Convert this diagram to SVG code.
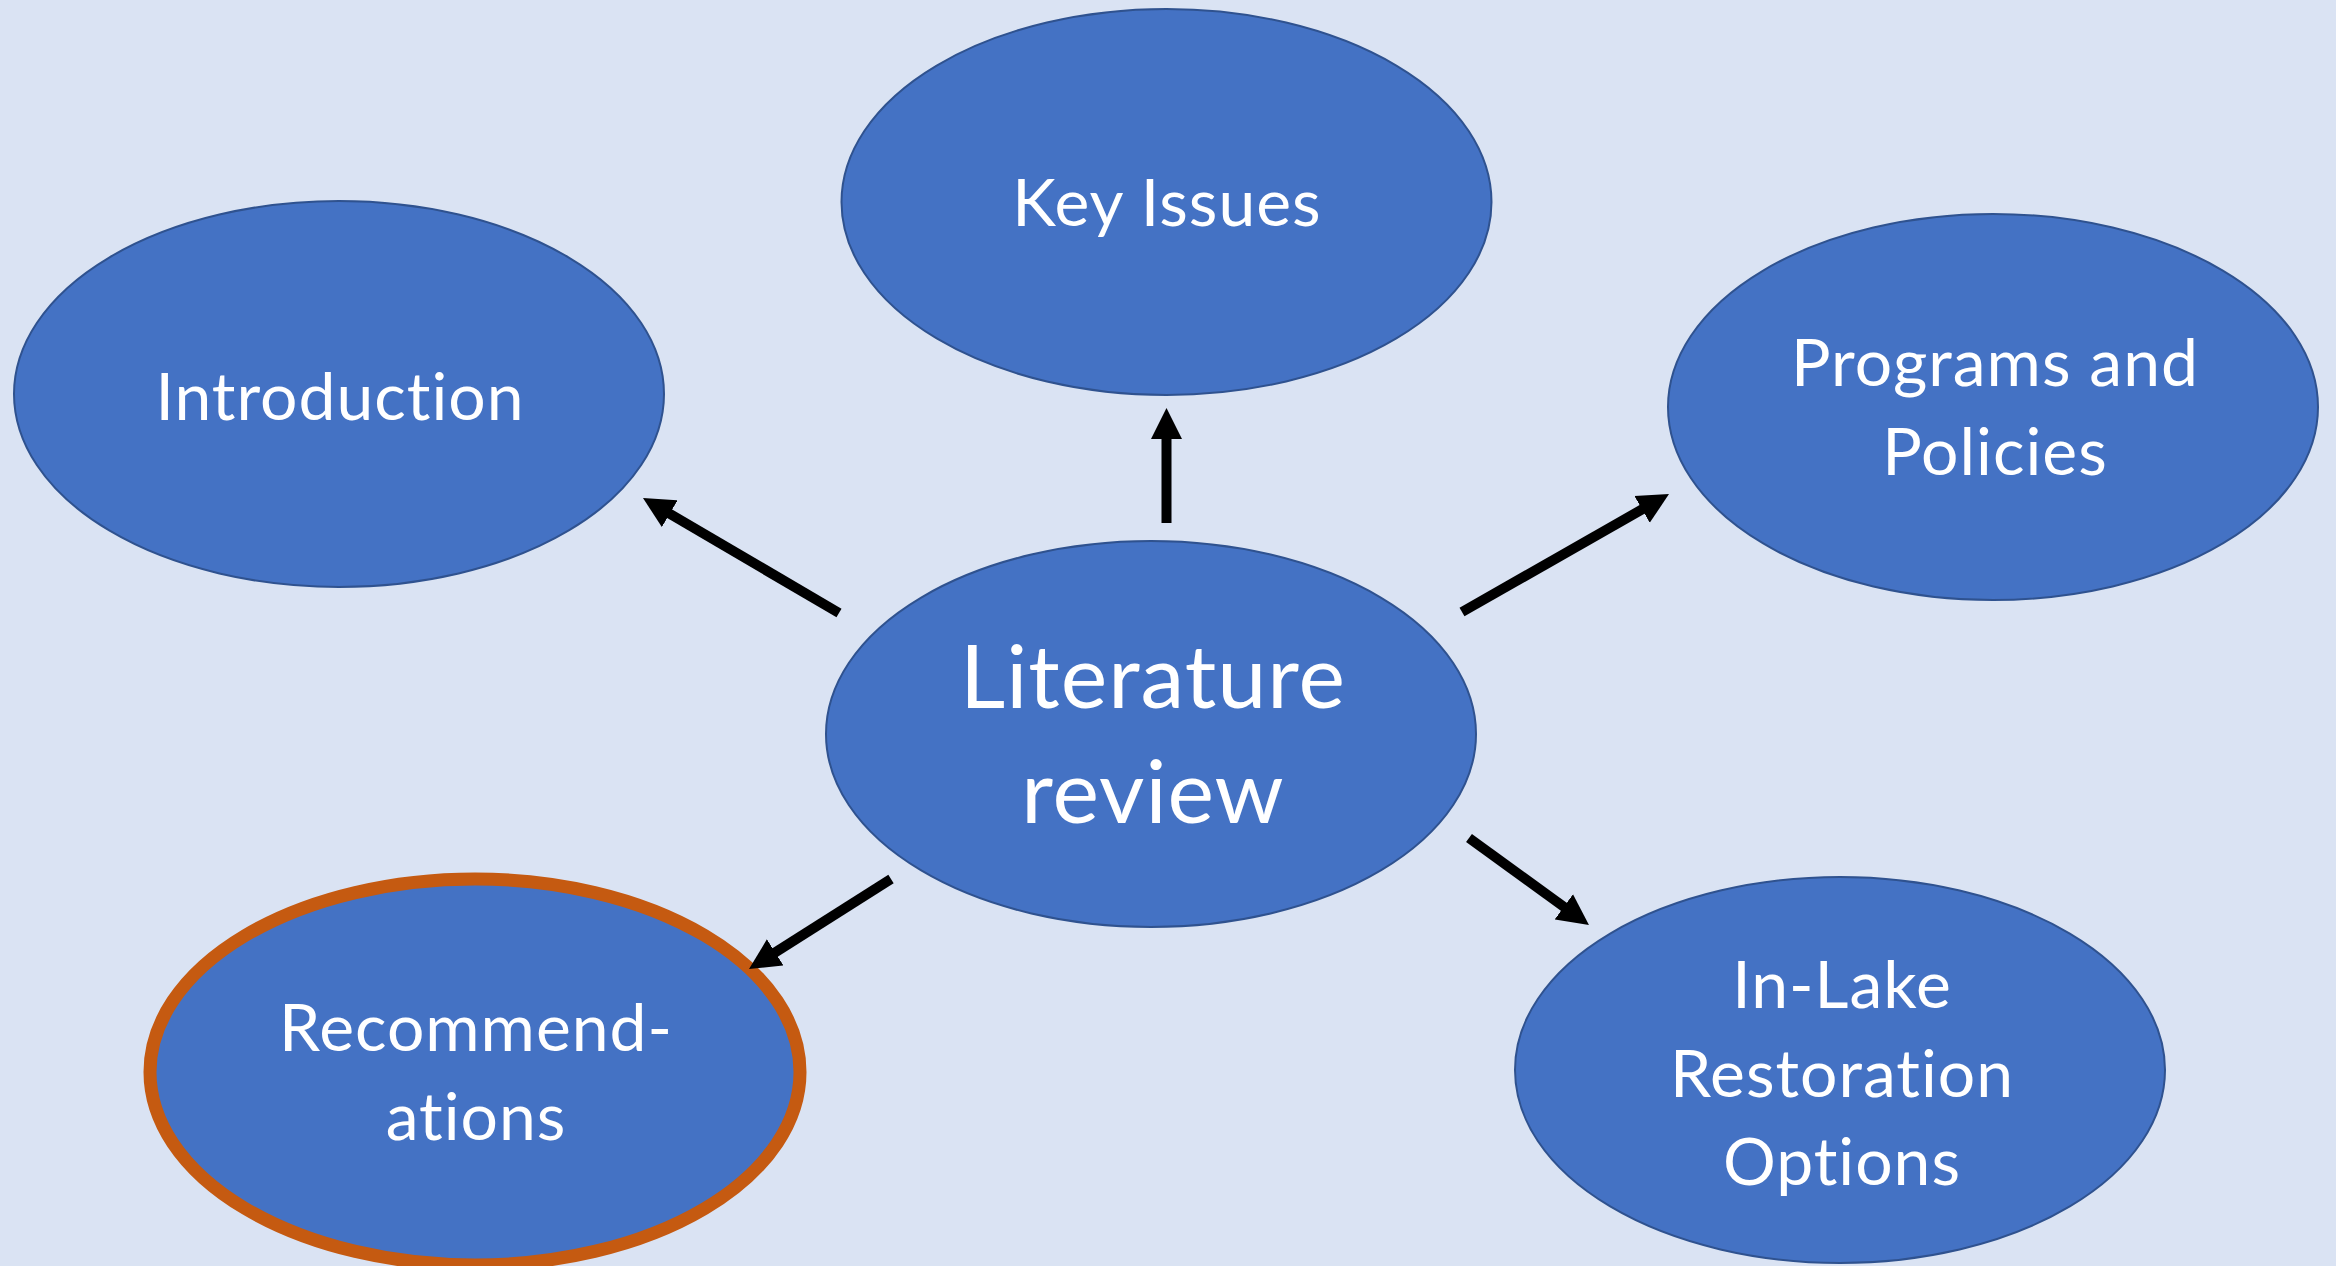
<svg xmlns="http://www.w3.org/2000/svg" width="2336" height="1266" viewBox="0 0 2336 1266">
  <style>
    .node { fill: #4472C4; stroke: #2F528F; stroke-width: 2; }
    .hl { fill: #4472C4; stroke: #C55A11; stroke-width: 13; }
    .lbl { fill: #FFFFFF; font-family: Lato, "Open Sans", "Liberation Sans", sans-serif; font-size: 66px; letter-spacing: 1px; text-anchor: middle; font-variant-ligatures: none; font-feature-settings: "liga" 0; }
    .big { font-size: 88px; }
    .conn { stroke: #000000; stroke-width: 10; fill: none; marker-end: url(#ah); }
  </style>
  <defs>
    <marker id="ah" markerUnits="userSpaceOnUse" markerWidth="32" markerHeight="32" viewBox="0 -16 32 32" refX="2" refY="0" orient="auto">
      <path d="M0,-15.5 L31,0 L0,15.5 Z" fill="#000000"/>
    </marker>
  </defs>
  <rect x="0" y="0" width="2336" height="1266" fill="#DAE3F3"/>

  <g id="node-key-issues">
    <ellipse class="node" cx="1166.5" cy="202" rx="325" ry="193"/>
    <text class="lbl" x="1167" y="226">Key Issues</text>
  </g>
  <g id="node-introduction">
    <ellipse class="node" cx="339" cy="394" rx="325" ry="193"/>
    <text class="lbl" x="340" y="420">Introduction</text>
  </g>
  <g id="node-programs">
    <ellipse class="node" cx="1993" cy="407" rx="325" ry="193"/>
    <text class="lbl" x="1995" y="386">Programs and</text>
    <text class="lbl" x="1995" y="475">Policies</text>
  </g>
  <g id="node-literature-review">
    <ellipse class="node" cx="1151" cy="734" rx="325" ry="193"/>
    <text class="lbl big" x="1153" y="708">Literature</text>
    <text class="lbl big" x="1153" y="823">review</text>
  </g>
  <g id="node-in-lake">
    <ellipse class="node" cx="1840" cy="1070" rx="325" ry="193"/>
    <text class="lbl" x="1842" y="1008">In-Lake</text>
    <text class="lbl" x="1842" y="1097">Restoration</text>
    <text class="lbl" x="1842" y="1185">Options</text>
  </g>
  <g id="node-recommendations">
    <ellipse class="hl" cx="475" cy="1072" rx="325" ry="193"/>
    <text class="lbl" x="476" y="1051">Recommend-</text>
    <text class="lbl" x="476" y="1140">ations</text>
  </g>

  <g id="connectors">
    <line class="conn" x1="839" y1="613" x2="668" y2="512.7"/>
    <line class="conn" x1="1166.5" y1="523" x2="1166.5" y2="437"/>
    <line class="conn" x1="1462" y1="612" x2="1643.8" y2="508.4"/>
    <line class="conn" x1="891" y1="879" x2="773.5" y2="953.5"/>
    <line class="conn" x1="1469" y1="838" x2="1565.5" y2="908"/>
  </g>
</svg>
